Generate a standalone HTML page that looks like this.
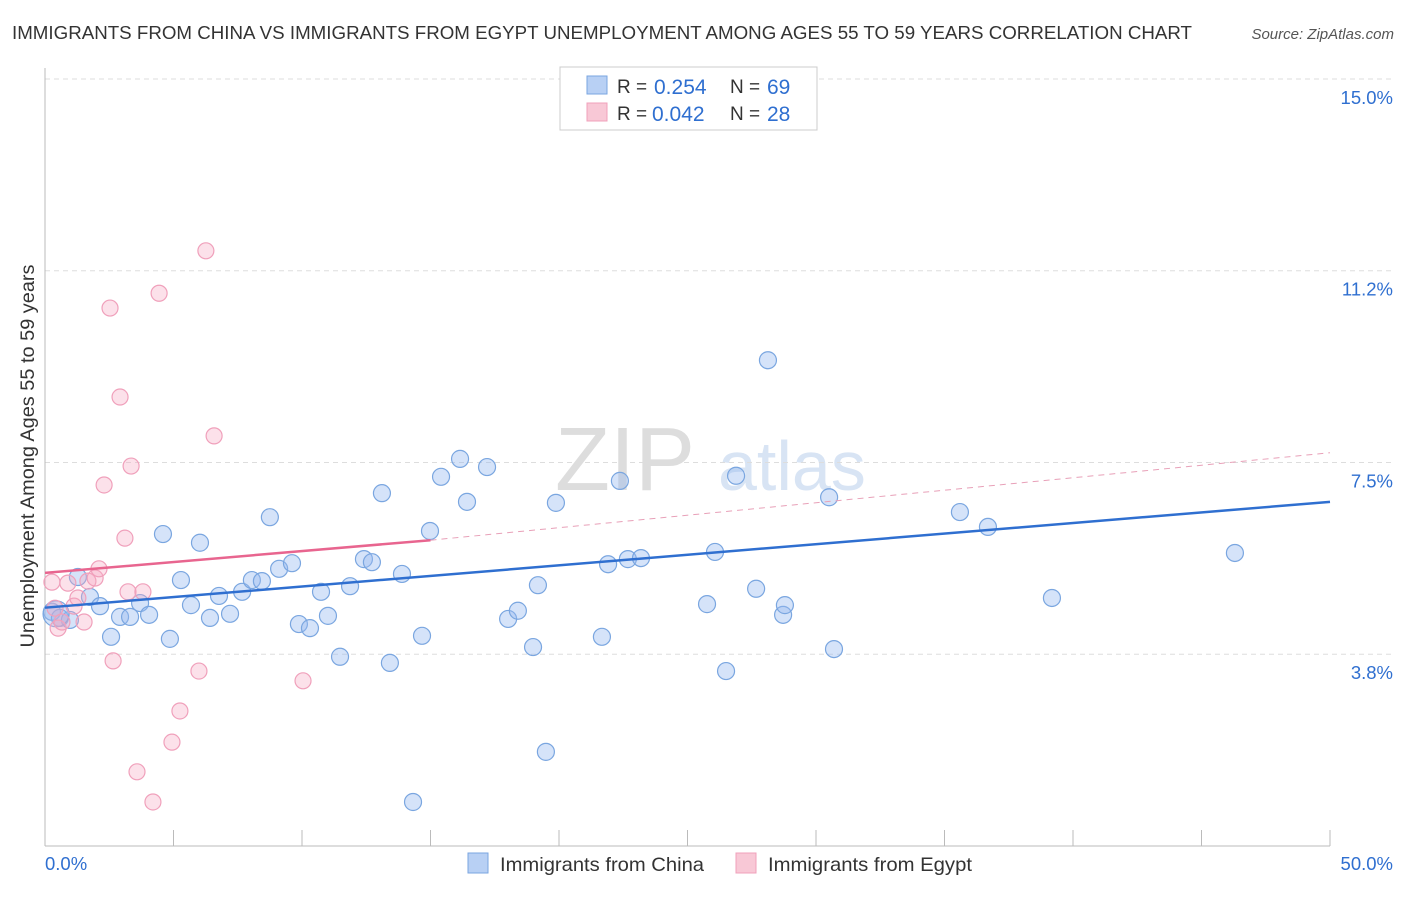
<!DOCTYPE html>
<html><head><meta charset="utf-8"><style>
body{margin:0;background:#fff;font-family:"Liberation Sans",sans-serif;}
svg text{font-family:"Liberation Sans",sans-serif;}
</style></head><body>
<svg width="1406" height="892" xmlns="http://www.w3.org/2000/svg">
<text x="12" y="39" font-size="18.5" fill="#333" textLength="1180" lengthAdjust="spacingAndGlyphs">IMMIGRANTS FROM CHINA VS IMMIGRANTS FROM EGYPT UNEMPLOYMENT AMONG AGES 55 TO 59 YEARS CORRELATION CHART</text>
<text x="1394" y="39" font-size="15" fill="#555" text-anchor="end" font-style="italic">Source: ZipAtlas.com</text>
<text x="34" y="456" font-size="19" fill="#333" text-anchor="middle" textLength="383" lengthAdjust="spacingAndGlyphs" transform="rotate(-90 34 456)">Unemployment Among Ages 55 to 59 years</text>
<text x="555" y="490" font-size="90" fill="#ddd" font-family="Liberation Serif">ZIP</text>
<text x="718" y="490" font-size="70" fill="#d8e4f4">atlas</text>
<g id="grid"></g><g id="axes"></g><g id="marks"></g>
<g>
<rect x="560" y="67" width="257" height="63" fill="#fff" stroke="#ccc"/>
<rect x="587" y="76" width="20" height="18" fill="#b8d0f4" stroke="#7aa6e0"/>
<rect x="587" y="103" width="20" height="18" fill="#f8c8d6" stroke="#f0a0bb"/>
<text x="617" y="93" font-size="19" fill="#333">R =</text>
<text x="654" y="94" font-size="21" fill="#2f6fd0">0.254</text>
<text x="730" y="93" font-size="19" fill="#333">N =</text>
<text x="767" y="94" font-size="21" fill="#2f6fd0">69</text>
<text x="617" y="120" font-size="19" fill="#333">R =</text>
<text x="652" y="121" font-size="21" fill="#2f6fd0">0.042</text>
<text x="730" y="120" font-size="19" fill="#333">N =</text>
<text x="767" y="121" font-size="21" fill="#2f6fd0">28</text>
</g>
<g>
<rect x="468" y="853" width="20" height="20" fill="#b8d0f4" stroke="#7aa6e0"/>
<text x="500" y="871" font-size="19.5" fill="#333" textLength="204" lengthAdjust="spacingAndGlyphs">Immigrants from China</text>
<rect x="736" y="853" width="20" height="20" fill="#f8c8d6" stroke="#f0a0bb"/>
<text x="768" y="871" font-size="19.5" fill="#333" textLength="204" lengthAdjust="spacingAndGlyphs">Immigrants from Egypt</text>
</g>
</svg>
<script>
const yTicks=[15.0,11.25,7.5,3.75];
const yTickLabels=["15.0%","11.2%","7.5%","3.8%"];
const xTicks=[0,5,10,15,20,25,30,35,40,45,50];
const chinaX=[0.27,0.58,0.97,1.28,1.75,2.14,2.57,2.92,3.31,3.70,4.05,4.59,4.86,5.29,5.68,6.03,6.42,6.77,7.20,7.67,8.05,8.44,8.75,9.11,9.61,9.88,10.31,10.74,11.01,11.48,11.87,12.41,12.72,13.11,13.42,13.89,14.32,14.67,14.98,15.41,16.15,16.42,17.20,18.02,18.40,18.99,19.18,19.49,19.88,21.67,21.91,22.37,22.68,23.19,25.76,26.07,26.50,26.89,27.67,28.13,28.72,28.79,30.51,30.70,35.60,36.69,39.18,46.30,0.43];
const chinaY=[4.58,4.46,4.42,5.26,4.87,4.69,4.09,4.48,4.48,4.75,4.52,6.10,4.05,5.20,4.71,5.93,4.46,4.89,4.54,4.97,5.20,5.18,6.43,5.42,5.53,4.34,4.26,4.97,4.50,3.70,5.08,5.61,5.55,6.90,3.58,5.32,0.86,4.11,6.16,7.22,7.57,6.73,7.41,4.44,4.60,3.89,5.10,1.84,6.71,4.09,5.51,7.14,5.61,5.63,4.73,5.75,3.42,7.24,5.03,9.50,4.52,4.71,6.82,3.85,6.53,6.24,4.85,5.73,4.54];
const egyptX=[0.27,0.39,0.51,0.66,0.89,1.13,1.28,1.52,1.67,1.95,2.10,2.30,2.53,2.65,2.92,3.11,3.23,3.35,3.58,3.81,4.20,4.44,4.94,5.25,5.99,6.26,6.58,10.04];
const egyptY=[5.16,4.65,4.26,4.38,5.14,4.69,4.85,4.38,5.18,5.24,5.42,7.06,10.52,3.62,8.78,6.02,4.97,7.43,1.45,4.97,0.86,10.81,2.03,2.64,3.42,11.64,8.02,3.23];
const chinaTrend=[[0,4.66],[50,6.73]];
const egyptTrend=[[0,5.34],[15,5.98],[50,7.69]];
const NS='http://www.w3.org/2000/svg';
const X=v=>45+v*25.7, Y=v=>79+(15-v)*51.13;
function mk(t,a,p){const e=document.createElementNS(NS,t);for(const k in a)e.setAttribute(k,a[k]);document.getElementById(p).appendChild(e);return e;}
yTicks.forEach((v,i)=>{
 const l=mk('line',{x1:45,x2:1392,y1:Y(v),y2:Y(v),stroke:'#ddd','stroke-dasharray':'5,4'},'grid');
 
 
 const t=mk('text',{x:1393,y:Y(v)+25,'font-size':18.5,fill:'#2f6fd0','text-anchor':'end'},'grid');t.textContent=yTickLabels[i];
 
 
});
const ax=mk('line',{x1:45,x2:45,y1:68,y2:846,stroke:'#bbb'},'axes');


const bx=mk('line',{x1:45,x2:1330,y1:846,y2:846,stroke:'#bbb'},'axes');


xTicks.forEach(v=>{const l=mk('line',{x1:X(v),x2:X(v),y1:830,y2:846,stroke:'#bbb'},'axes');
 
 });
let t=mk('text',{x:45,y:870,'font-size':18.5,fill:'#2f6fd0'},'axes');t.textContent='0.0%';


t=mk('text',{x:1393,y:870,'font-size':18.5,fill:'#2f6fd0','text-anchor':'end'},'axes');t.textContent='50.0%';


chinaX.forEach((x,i)=>{const c=mk('circle',{cx:X(x),cy:Y(chinaY[i]),r:i==68?13:8.5,fill:'rgba(150,185,240,0.4)',stroke:'#7aa6e0','stroke-width':1.2},'marks');
 
 });
egyptX.forEach((x,i)=>{const c=mk('circle',{cx:X(x),cy:Y(egyptY[i]),r:8,fill:'rgba(245,170,195,0.35)',stroke:'#f0a0bb','stroke-width':1.2},'marks');
 
 });
let l=mk('line',{x1:X(chinaTrend[0][0]),y1:Y(chinaTrend[0][1]),x2:X(chinaTrend[1][0]),y2:Y(chinaTrend[1][1]),stroke:'#2f6fd0','stroke-width':2.5},'marks');


l=mk('line',{x1:X(egyptTrend[0][0]),y1:Y(egyptTrend[0][1]),x2:X(egyptTrend[1][0]),y2:Y(egyptTrend[1][1]),stroke:'#e8658f','stroke-width':2.5},'marks');


l=mk('line',{x1:X(egyptTrend[1][0]),y1:Y(egyptTrend[1][1]),x2:X(egyptTrend[2][0]),y2:Y(egyptTrend[2][1]),stroke:'#e8a0b8','stroke-width':1,'stroke-dasharray':'6,5'},'marks');


</script>
</body></html>
